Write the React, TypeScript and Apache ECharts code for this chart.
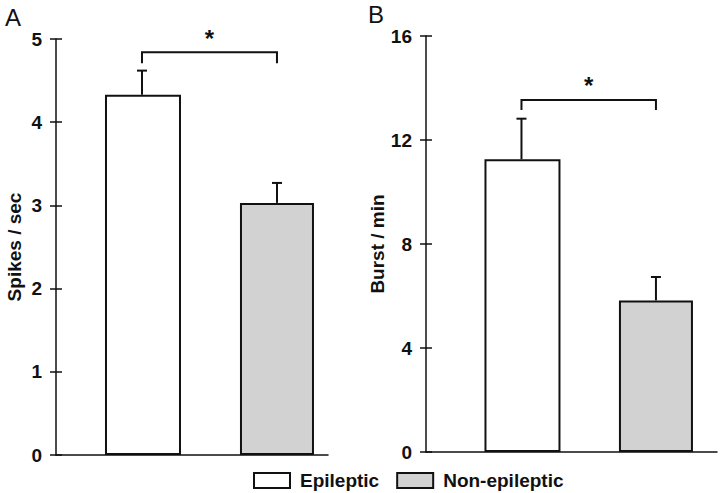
import React, { useEffect, useRef } from "react";
import * as echarts from "echarts";

const categories = ["Epileptic", "Non-epileptic"];
const groupPos = [1, 2];
const spikesMean = [4.33, 3.03];
const spikesSem = [0.29, 0.24];
const burstMean = [11.26, 5.83];
const burstSem = [1.56, 0.9];
const spikesTicks = { min: 0, max: 5, interval: 1 };
const burstTicks = { min: 0, max: 16, interval: 4 };
// significance brackets: [x1, x2, barY, legY]
const spikesBracket = [1, 2, 4.84, 4.71];
const burstBracket = [1, 2, 13.54, 13.15];
const sigLabel = "*";

const FONT = "'Liberation Sans', Arial, Helvetica, sans-serif";
const INK = "#111";
const GRAY = "#d2d2d2";
const fills = ["#ffffff", GRAY];

function errorSeries(idx: number, mean: number[], sem: number[]) {
  return {
    type: "custom",
    xAxisIndex: idx,
    yAxisIndex: idx * 2,
    z: 5,
    data: groupPos.map((x, i) => [x, mean[i], mean[i] + sem[i]]),
    renderItem: (_p: any, api: any) => {
      const x = api.value(0);
      const a = api.coord([x, api.value(1)]);
      const b = api.coord([x, api.value(2)]);
      const st = { stroke: INK, lineWidth: 2, fill: "none" };
      return {
        type: "group",
        children: [
          { type: "line", shape: { x1: a[0], y1: a[1], x2: b[0], y2: b[1] }, style: st },
          { type: "line", shape: { x1: b[0] - 5, y1: b[1], x2: b[0] + 5, y2: b[1] }, style: st },
        ],
      };
    },
  };
}

function bracketSeries(idx: number, br: number[]) {
  return {
    type: "custom",
    xAxisIndex: idx,
    yAxisIndex: idx * 2,
    z: 5,
    data: [br],
    renderItem: (_p: any, api: any) => {
      const p1 = api.coord([api.value(0), api.value(2)]);
      const p2 = api.coord([api.value(1), api.value(2)]);
      const l1 = api.coord([api.value(0), api.value(3)]);
      const l2 = api.coord([api.value(1), api.value(3)]);
      return {
        type: "group",
        children: [
          {
            type: "polyline",
            shape: { points: [l1, p1, p2, l2] },
            style: { stroke: INK, lineWidth: 2, fill: "none" },
          },
          {
            type: "text",
            x: (p1[0] + p2[0]) / 2,
            y: p1[1] - 2,
            style: {
              text: sigLabel,
              fill: INK,
              font: `bold 24px ${FONT}`,
              align: "center",
              verticalAlign: "bottom",
            },
          },
        ],
      };
    },
  };
}

function barSeries(idx: number, values: number[]) {
  return values.map((v, i) => ({
    name: categories[i],
    type: "bar",
    xAxisIndex: idx,
    yAxisIndex: idx * 2,
    barWidth: i === 0 ? 76 : 74,
    barGap: "-100%",
    data: [[groupPos[i], v]],
    itemStyle: { color: fills[i], borderColor: INK, borderWidth: 2 },
  }));
}

function yAxes(idx: number, name: string, t: any, gap: number) {
  const base = {
    type: "value",
    gridIndex: idx,
    position: "left",
    offset: 0,
    min: t.min,
    max: t.max,
    interval: t.interval,
    splitLine: { show: false },
  };
  return [
    {
      ...base,
      name,
      nameLocation: "middle",
      nameGap: gap,
      nameRotate: 90,
      nameTextStyle: { color: INK, fontSize: 19, fontWeight: "bold", fontFamily: FONT },
      axisLine: { show: true, onZero: false, lineStyle: { color: INK, width: 1.5 } },
      axisTick: { show: true, length: 6, lineStyle: { color: INK, width: 1.5 } },
      axisLabel: { color: INK, fontSize: 19, fontWeight: "bold", fontFamily: FONT, margin: 14 },
    },
    {
      ...base,
      axisLine: { show: false, onZero: false },
      axisTick: { show: true, inside: true, length: 6, lineStyle: { color: INK, width: 1.5 } },
      axisLabel: { show: false },
    },
  ];
}

function xAxis(idx: number, min: number, max: number) {
  return {
    type: "value",
    gridIndex: idx,
    min,
    max,
    axisLine: { show: true, onZero: false, lineStyle: { color: INK, width: 1.5 } },
    axisTick: { show: false },
    axisLabel: { show: false },
    splitLine: { show: false },
  };
}

export default function App() {
  const ref = useRef<HTMLDivElement>(null);
  useEffect(() => {
    if (!ref.current) return;
    const chart = echarts.init(ref.current, undefined, { renderer: "svg" });
    chart.setOption({
      animation: false,
      backgroundColor: "#fff",
      textStyle: { fontFamily: FONT },
      grid: [
        { left: 56, width: 272, top: 39, bottom: 38 },
        { left: 426, right: 3, top: 36, bottom: 41 },
      ],
      xAxis: [xAxis(0, 0.363, 2.378), xAxis(1, 0.29, 2.454)],
      yAxis: [
        ...yAxes(0, "Spikes / sec", spikesTicks, 32),
        ...yAxes(1, "Burst / min", burstTicks, 34),
      ],
      legend: {
        data: categories,
        left: 253,
        top: 471,
        padding: 0,
        icon: "rect",
        itemWidth: 36,
        itemHeight: 15,
        itemGap: 17,
        textStyle: {
          color: INK,
          fontSize: 19,
          fontWeight: "bold",
          fontFamily: FONT,
          padding: [0, 0, 0, 5],
        },
      },
      graphic: [
        { type: "text", left: 5, top: 5, style: { text: "A", fill: INK, font: `24px ${FONT}` } },
        { type: "text", left: 368, top: 2, style: { text: "B", fill: INK, font: `24px ${FONT}` } },
      ],
      series: [
        ...barSeries(0, spikesMean),
        ...barSeries(1, burstMean),
        errorSeries(0, spikesMean, spikesSem),
        errorSeries(1, burstMean, burstSem),
        bracketSeries(0, spikesBracket),
        bracketSeries(1, burstBracket),
      ],
    });
    return () => chart.dispose();
  }, []);
  return <div ref={ref} style={{ width: 720, height: 493, position: "absolute", left: 0, top: 0 }} />;
}
